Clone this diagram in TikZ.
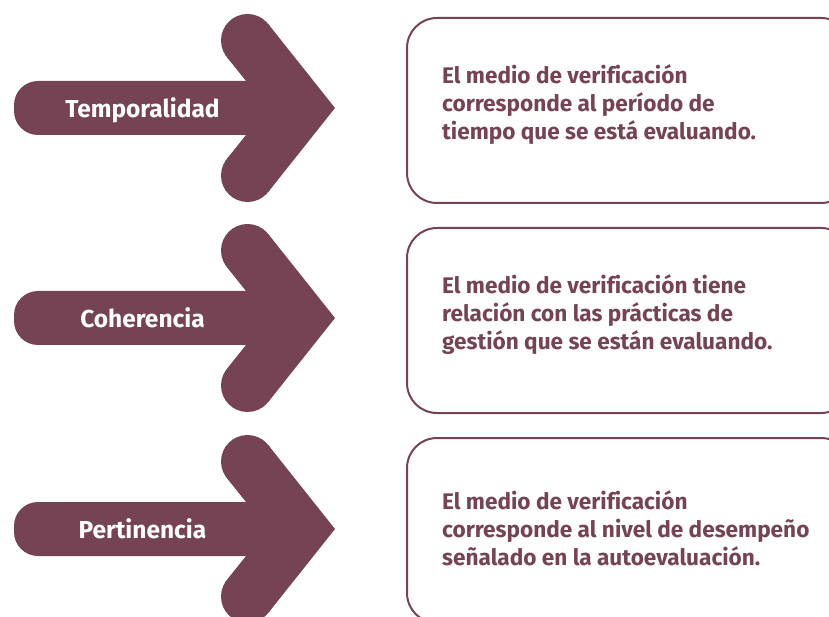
\documentclass[tikz,border=0pt]{standalone}
\usepackage{fontspec}
\setmainfont{Fira Sans}[Ligatures=CommonOff]
\definecolor{maroon}{RGB}{118,67,85}
\tikzset{
  pics/bigarrow/.style={code={
    \fill[maroon] (335,0) -- (268.2,84) -- (226.8,51) -- (246,27) -- (246,-27)
      -- (226.8,-51) -- (268.2,-84) -- cycle;
    \fill[maroon] (247.5,67.5) circle[radius=26.5];
    \fill[maroon] (247.5,-67.5) circle[radius=26.5];
    \fill[maroon] (262,27) [rounded corners=24pt] -- (14,27) -- (14,-27)
      [sharp corners] -- (262,-27) -- cycle;
  }},
  arrowlabel/.style={text=white, inner sep=0pt, anchor=base,
    font=\fontsize{24.5}{28}\selectfont\bfseries},
  infobox/.style={draw=maroon, line width=2pt, rounded corners=30pt,
    anchor=north west, minimum width=444pt, minimum height=185pt, inner sep=0pt},
  infotext/.style={text=maroon, inner sep=0pt, anchor=north west, align=left,
    font=\fontsize{22.6}{28.3}\selectfont\bfseries}
}
\begin{document}
\begin{tikzpicture}[x=1pt,y=1pt]
\useasboundingbox (0,0) rectangle (829,616);
\clip (0,0) rectangle (829,616);
% arrows
\pic at (0,508) {bigarrow};
\pic at (0,298) {bigarrow};
\pic at (0,87) {bigarrow};
\node[arrowlabel] (l1) at (142.5,498) {Temporalidad};
\node[arrowlabel] (l2) at (142.5,288) {Coherencia};
\node[arrowlabel] (l3) at (142.5,78) {Pertinencia};
% boxes
\node[infobox] (b1) at (406,599) {};
\node[infobox] (b2) at (406,389) {};
\node[infobox] (b3) at (406,179) {};
\node[infotext] (t1) at (442,552) {El medio de verificación\\corresponde al período de\\tiempo que se está evaluando.};
\node[infotext] (t2) at (442,342) {El medio de verificación tiene\\relación con las prácticas de\\gestión que se están evaluando.};
\node[infotext] (t3) at (442,126) {El medio de verificación\\corresponde al nivel de desempeño\\señalado en la autoevaluación.};
\end{tikzpicture}
\end{document}
